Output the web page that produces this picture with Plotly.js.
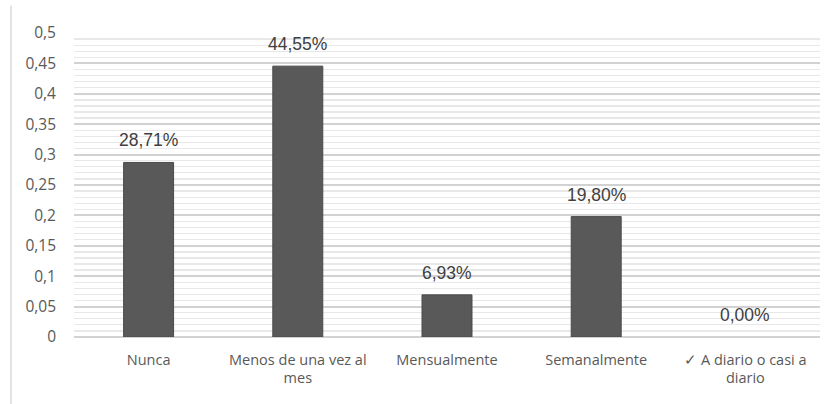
<!DOCTYPE html>
<html>
<head>
<meta charset="utf-8">
<script src="https://cdn.plot.ly/plotly-3.0.1.min.js"></script>
<style>html,body{margin:0;padding:0;background:#fff;}#chart{width:835px;height:404px;}</style>
</head>
<body>
<div id="chart"></div>
<script>
const categories = ["Nunca", "Menos de una vez al<br>mes", "Mensualmente", "Semanalmente", "✓ A diario o casi a<br>diario"];
const values = [0.2871, 0.4455, 0.0693, 0.1980, 0.0];
const valueLabels = ["28,71%", "44,55%", "6,93%", "19,80%", "0,00%"];
const yTickVals = [0, 0.05, 0.1, 0.15, 0.2, 0.25, 0.3, 0.35, 0.4, 0.45, 0.5];
const yTickText = ["0", "0,05", "0,1", "0,15", "0,2", "0,25", "0,3", "0,35", "0,4", "0,45", "0,5"];

const trace = {
  type: "bar",
  x: categories,
  y: values,
  width: 0.335,
  marker: {color: "#595959", line: {color: "#4a4a4a", width: values.map(v => v > 0 ? 1 : 0)}},
  hoverinfo: "skip"
};

const annotations = categories.map((c, i) => ({
  x: c, y: values[i], xref: "x", yref: "y",
  text: valueLabels[i], showarrow: false,
  yanchor: "bottom", yshift: 10,
  font: {family: "Liberation Sans, Arial, sans-serif", size: 17.5, color: "#404040"}
}));

const layout = {
  width: 835, height: 404,
  margin: {l: 74, r: 15, t: 33, b: 67},
  paper_bgcolor: "#ffffff", plot_bgcolor: "#ffffff",
  showlegend: false,
  xaxis: {
    type: "category",
    showgrid: false, zeroline: false, showline: false,
    ticks: "", ticklen: 0,
    ticklabelstandoff: 12,
    tickfont: {family: "Open Sans, Noto Sans, sans-serif", size: 14.5, color: "#595959"},
    automargin: false
  },
  yaxis: {
    range: [0, 0.5],
    tickvals: yTickVals, ticktext: yTickText,
    showgrid: true, gridcolor: "#d2d2d2", gridwidth: 2,
    zeroline: true, zerolinecolor: "#d2d2d2", zerolinewidth: 2,
    showline: false, ticks: "",
    ticklabelstandoff: 17,
    minor: {dtick: 0.01, showgrid: true, gridcolor: "#e8e8e8", gridwidth: 1.3},
    tickfont: {family: "Open Sans, Noto Sans, sans-serif", size: 15.5, color: "#595959"},
    automargin: false
  },
  annotations: annotations,
  shapes: [{
    type: "line", xref: "paper", yref: "paper",
    x0: -0.0845, x1: -0.0845, y0: -0.23, y1: 1.09,
    line: {color: "#d9d9d9", width: 1.5}
  }]
};

Plotly.newPlot("chart", [trace], layout, {displayModeBar: false, staticPlot: true});
</script>
</body>
</html>
